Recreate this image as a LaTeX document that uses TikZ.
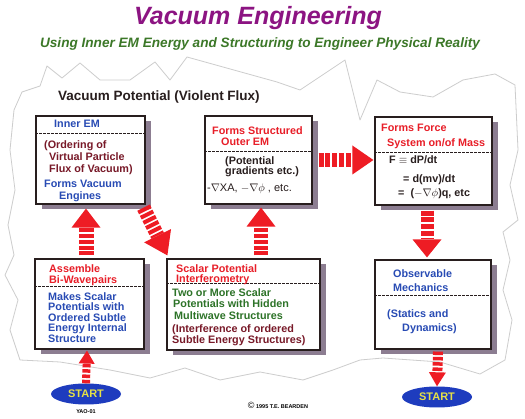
\documentclass[tikz,border=0pt]{standalone}
\usepackage{fontspec}
\setmainfont{Liberation Sans}
\usetikzlibrary{calc,shapes.geometric,shadows}
\definecolor{titlepurple}{RGB}{140,20,130}
\definecolor{subgreen}{RGB}{60,120,40}
\definecolor{arrowred}{RGB}{238,28,36}
\definecolor{txtred}{RGB}{232,30,40}
\definecolor{txtblue}{RGB}{40,75,180}
\definecolor{txtmaroon}{RGB}{120,25,40}
\definecolor{txtgreen}{RGB}{45,115,40}
\definecolor{txtdark}{RGB}{40,30,30}
\definecolor{shadowgray}{RGB}{140,125,145}
\definecolor{startblue}{RGB}{30,60,190}
\definecolor{startyellow}{RGB}{230,225,70}
\definecolor{cloudgray}{RGB}{205,205,205}
\tikzset{
  box/.style={draw=txtdark,line width=1.2pt,fill=white,rectangle,inner sep=0pt,
    general shadow={fill=shadowgray,shadow xshift=6pt,shadow yshift=-5pt}},
  sepline/.style={txtdark,line width=0.7pt,dash pattern=on 2.5pt off 1.5pt},
  txt/.style={font=\bfseries\fontsize{10.8}{#1}\selectfont,align=left,anchor=north west,inner sep=0pt},
  txt/.default=11,
  startnode/.style={ellipse,fill=startblue,text=startyellow,font=\bfseries\fontsize{11}{11}\selectfont,
    minimum width=70pt,minimum height=21pt,inner sep=0pt},
}
% striped block arrow: from, to, shaft width, half head width, head length, stripe length
\newcommand{\stripearrow}[6]{%
  \coordinate (hb) at ($(#2)!#5!(#1)$);
  \draw[arrowred,line width=#3,dash pattern=on #6 off 1.8pt] (#1) -- (hb);
  \fill[arrowred] ($(hb)!#4!90:(#2)$) -- (#2) -- ($(hb)!#4!-90:(#2)$) -- cycle;
}
\begin{document}
\begin{tikzpicture}[x=1pt,y=-1pt]
\fill[white] (0,0) rectangle (525,419);
\useasboundingbox (0,0) rectangle (525,419);
%cloud
\draw[cloudgray,line width=0.8pt,line join=round] (20,360)--(10,330)--(18,300)--(5,275)--(14,255)--(8,225)--(15,190)--(10,150)--(14,110)--(22,92)--(40,86)--(47,66)--(62,78)--(80,63)--(100,80)--(130,80)--(155,62)--(170,80)--(187,57)--(277,82)--(300,90)--(345,60)--(360,120)--(377,80)--(400,92)--(433,97)--(463,80)--(495,74)--(515,85)--(518,150)--(510,185)--(518,220)--(503,232)--(510,260)--(503,290)--(512,320)--(505,360)--(480,374)--(440,362)--(383,358)--(360,360)--(333,370)--(303,380)--(260,372)--(220,380)--(185,368)--(150,378)--(110,370)--(60,362)--cycle;
%titles
\node[anchor=base,inner sep=0pt,text=titlepurple,font=\bfseries\itshape\fontsize{25}{25}\selectfont] (title) at (258,25) {Vacuum Engineering};
\node[anchor=base,inner sep=0pt,text=subgreen,font=\bfseries\itshape\fontsize{13.6}{13.6}\selectfont] (subtitle) at (260,48) {Using Inner EM Energy and Structuring to Engineer Physical Reality};
\node[anchor=base west,inner sep=0pt,text=txtdark,font=\bfseries\fontsize{13.5}{13.5}\selectfont] (vp) at (58,101) {Vacuum Potential (Violent Flux)};
%boxes
\node[box,minimum width=109pt,minimum height=88pt] (A) at (90.5,160) {};
\node[box,minimum width=107pt,minimum height=88pt] (B) at (258.5,160) {};
\node[box,minimum width=117pt,minimum height=88pt] (C) at (433.5,161) {};
\node[box,minimum width=109pt,minimum height=90pt] (D) at (89.5,304) {};
\node[box,minimum width=153pt,minimum height=91pt] (E) at (243.5,304.5) {};
\node[box,minimum width=116pt,minimum height=89pt] (F) at (433,304.5) {};
\draw[sepline] ($(A.north west)+(0,18)$) -- ($(A.north east)+(0,18)$);
\draw[sepline] ($(B.north west)+(0,36)$) -- ($(B.north east)+(0,36)$);
\draw[sepline] ($(C.north west)+(0,36)$) -- ($(C.north east)+(0,36)$);
\draw[sepline] ($(D.north west)+(0,28)$) -- ($(D.north east)+(0,28)$);
\draw[sepline] ($(E.north west)+(0,25)$) -- ($(E.north east)+(0,25)$);
\draw[sepline] ($(F.north west)+(0,36)$) -- ($(F.north east)+(0,36)$);
%box texts
\node[txt,text=txtblue] (a1) at (54,120) {Inner EM};
\node[txt=12,text=txtmaroon] (a2) at (44,140) {(Ordering of\\\hspace*{5pt}Virtual Particle\\\hspace*{5pt}Flux of Vacuum)};
\node[txt=12,text=txtblue] (a3) at (44,180) {Forms Vacuum\\\hspace*{15pt}Engines};
\node[txt,text=txtred] (b1) at (212,126) {Forms Structured\\\hspace*{9pt}Outer EM};
\node[txt=10.5,text=txtdark] (b2) at (225,156) {(Potential\\gradients etc.)};
\node[anchor=base west,inner sep=0pt,text=txtdark,font=\fontsize{11}{11}\selectfont] (b3) at (207,192) {-$\nabla$XA, $-\nabla\phi$ , etc.};
\node[txt=15,text=txtred] (c1) at (381,124) {Forms Force\\\hspace*{6pt}System on/of Mass};
\node[txt,text=txtdark] (c2) at (389,155) {F $\equiv$ dP/dt};
\node[txt=14,text=txtdark] (c3) at (389,174) {\hspace*{14pt}= d(mv)/dt\\\hspace*{9pt}=\ \ ($-\nabla\phi$)q, etc};
\node[txt,text=txtred] (d1) at (49,264) {Assemble\\Bi-Wavepairs};
\node[txt=10.6,text=txtblue] (d2) at (48,292) {Makes Scalar\\Potentials with\\Ordered Subtle\\Energy Internal\\Structure};
\node[txt=10,text=txtred] (e1) at (176,264) {Scalar Potential\\Interferometry};
\node[txt=11.5,text=txtgreen] (e2) at (172,288) {Two or More Scalar\\\hspace*{1pt}Potentials with Hidden\\\hspace*{2pt}Multiwave Structures};
\node[txt,text=txtmaroon] (e3) at (172,324) {(Interference of ordered\\Subtle Energy Structures)};
\node[txt=14,text=txtblue] (f1) at (393,269) {Observable\\Mechanics};
\node[txt=14,text=txtblue] (f2) at (387,309) {(Statics and\\\hspace*{15pt}Dynamics)};
%start ovals
\node[startnode] (S1) at (86,394) {START};
\node[startnode] (S2) at (437,397) {START};
\node[anchor=base,inner sep=0pt,font=\bfseries\fontsize{5.5}{5.5}\selectfont] (yao) at (86,414) {YAO-01};
\node[anchor=base,inner sep=0pt,font=\bfseries\fontsize{5.5}{5.5}\selectfont] (copy) at (278,409) {{\fontsize{9}{9}\selectfont\normalfont ©} 1995 T.E. BEARDEN};
%arrows
\coordinate (dA) at ($(D.north)+(-3.5,-3)$);
\coordinate (aD) at ($(A.south)+(-4.5,4)$);
\stripearrow{dA}{aD}{15pt}{14.5pt}{19pt}{4pt}
\coordinate (aE) at ($(A.south east)+(-2,3)$);
\coordinate (eA) at ($(E.north west)+(1,-3)$);
\stripearrow{aE}{eA}{14pt}{15pt}{22pt}{4pt}
\coordinate (eB) at ($(E.north)+(17.5,-3)$);
\coordinate (bE) at ($(B.south)+(2.5,3)$);
\stripearrow{eB}{bE}{14pt}{14.5pt}{19pt}{4pt}
\coordinate (bC) at ($(B.east)+(6,0)$);
\coordinate (cB) at ($(C.west)+(-1,-1)$);
\stripearrow{bC}{cB}{14pt}{14.5pt}{21pt}{5pt}
\coordinate (cF) at ($(C.south)+(-6.5,5)$);
\coordinate (fC) at ($(F.north)+(-6,-2)$);
\stripearrow{cF}{fC}{13pt}{14.5pt}{18pt}{5pt}
\coordinate (fS) at ($(F.south)+(5,2)$);
\stripearrow{fS}{S2.north}{10pt}{8.5pt}{14pt}{3.5pt}
\coordinate (dS) at ($(D.south)+(-2.5,1)$);
\stripearrow{S1.north}{dS}{8pt}{8pt}{13pt}{3.5pt}
\end{tikzpicture}
\end{document}
